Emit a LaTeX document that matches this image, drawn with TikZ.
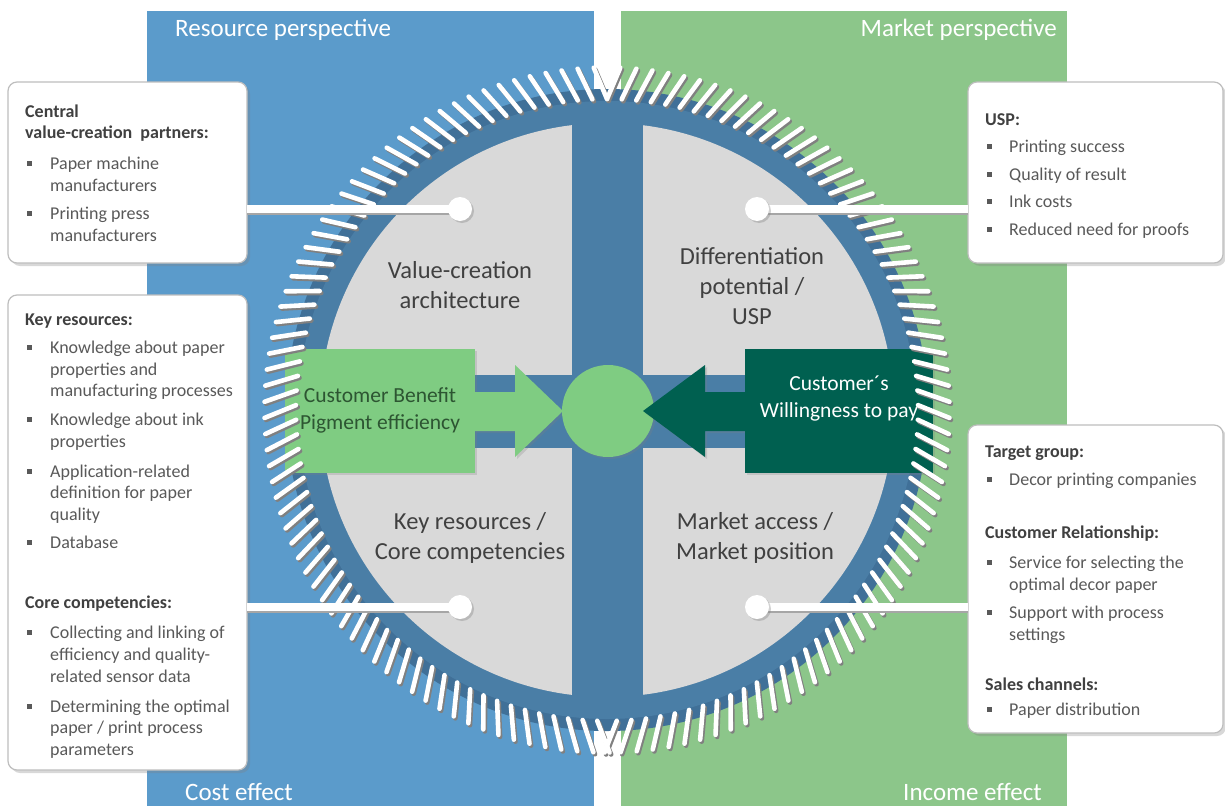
\documentclass[tikz,border=0pt]{standalone}
\usepackage{fontspec}
\setmainfont{Carlito}
\usetikzlibrary{shadows}
\definecolor{bgblue}{RGB}{91,155,203}
\definecolor{bggreen}{RGB}{140,198,138}
\definecolor{ringblue}{RGB}{74,126,166}
\definecolor{ringdark}{RGB}{64,112,152}
\definecolor{quadgray}{RGB}{217,217,217}
\definecolor{lgreen}{RGB}{127,204,130}
\definecolor{dgreen}{RGB}{0,96,80}
\definecolor{txtdark}{RGB}{64,64,64}
\definecolor{txtgray}{RGB}{89,89,89}
\definecolor{gtext}{RGB}{45,85,50}
\definecolor{boxborder}{RGB}{190,190,190}
\tikzset{
 ttl/.style={text=white, font=\fontsize{25}{30}\selectfont, inner sep=0},
 quad/.style={text=txtdark, align=center, font=\fontsize{24.5}{30}\selectfont, inner sep=0},
 infobox/.style={rectangle, rounded corners=9, draw=boxborder, line width=1.2, fill=white, outer sep=0,
   drop shadow={shadow xshift=3pt, shadow yshift=-3pt, opacity=0.3}},
 hd/.style={anchor=base west, inner sep=0, text=txtdark, font=\bfseries\fontsize{18}{22}\selectfont},
 it/.style={anchor=base west, inner sep=0, text=txtgray, font=\fontsize{18}{22}\selectfont},
 bul/.style={rectangle, fill=txtgray, minimum size=5, inner sep=0},
 ctext/.style={align=center, inner sep=0, font=\fontsize{21.5}{27}\selectfont},
 softsh/.style={drop shadow={shadow xshift=2pt, shadow yshift=-2pt, opacity=0.25}},
 tooth/.style={white, line width=4.6, line cap=round},
 toothsh/.style={black!50, line width=4.6, line cap=round},
 conn/.style={white, line width=8},
 connsh/.style={black!35, line width=8},
 endc/.style={circle, fill=white, minimum size=24, inner sep=0,
   drop shadow={shadow xshift=2pt, shadow yshift=-2pt, opacity=0.35}}
}
\begin{document}
\begin{tikzpicture}[x=1pt,y=-1pt]
\useasboundingbox (0,0) rectangle (1225,806);
\fill[white] (0,0) rectangle (1225,806);
% backgrounds
\fill[bgblue] (147,11) rectangle (594,806);
\fill[bggreen] (621,11) rectangle (1067,806);
\node[ttl, anchor=base west] (tres) at (175,36) {Resource perspective};
\node[ttl, anchor=base east] (tmar) at (1057,36) {Market perspective};
\node[ttl, anchor=base west] (tcost) at (185,800) {Cost effect};
\node[ttl, anchor=base west] (tinc) at (903,800) {Income effect};
% gear disk
\fill[ringdark] (607,410) circle (321);
\fill[ringblue] (607,410) circle (309);
\fill[quadgray] (607,410) circle (287);
\fill[ringblue] (572,110) rectangle (643,710);
\fill[ringblue] (300,375) rectangle (914,448);
% quadrant labels
\node[quad] (qva) at (460,285) {Value-creation\\architecture};
\node[quad] (qdp) at (752,286) {Differentiation\\potential /\\USP};
\node[quad] (qkr) at (470,538) {Key resources /\\Core competencies};
\node[quad] (qma) at (755,538) {Market access /\\Market position};
% center
\node[rectangle, fill=lgreen, minimum width=190, minimum height=124, inner sep=0, softsh] (cbox) at (380,411) {};
\node[ctext, text=gtext] (cbt) at (380,410) {Customer Benefit\\Pigment efficiency};
\fill[lgreen, softsh] (474,392) -- (515,392) -- (515,365) -- (563,411) -- (515,457) -- (515,431) -- (474,431) -- cycle;
\node[circle, fill=lgreen, minimum size=92, inner sep=0, softsh] (hub) at (608,411) {};
\fill[dgreen, softsh] (746,392) -- (705,392) -- (705,365) -- (643,411) -- (705,457) -- (705,431) -- (746,431) -- cycle;
\node[rectangle, fill=dgreen, minimum width=188, minimum height=124, inner sep=0, softsh] (wbox) at (839,411) {};
\node[ctext, text=white] (wbt) at (839,398) {Customer´s\\Willingness to pay};
% teeth
\begin{scope}[shift={(608.6,412)}]
\foreach \k in {0,...,66}{
  \pgfmathsetmacro\a{-(90+2.7*\k)}
  \pgfmathsetmacro\b{-90+2.7*\k}
  \draw[toothsh] (\a:311) -- ++(\a-23:34);
  \draw[toothsh] (\b:311) -- ++(\b+23:34);
}
\end{scope}
\begin{scope}[shift={(607,410)}]
\foreach \k in {0,...,66}{
  \pgfmathsetmacro\a{-(90+2.7*\k)}
  \pgfmathsetmacro\b{-90+2.7*\k}
  \draw[tooth] (\a:311) -- ++(\a-23:34);
  \draw[tooth] (\b:311) -- ++(\b+23:34);
}
\end{scope}
% info boxes
\node[infobox, minimum width=239, minimum height=181] (box1) at (127.5,172.5) {};
\node[infobox, minimum width=239, minimum height=475] (box2) at (127.5,532.5) {};
\node[infobox, minimum width=255, minimum height=181] (box3) at (1095.5,172.5) {};
\node[infobox, minimum width=255, minimum height=308] (box4) at (1095.5,579) {};
% box1
\node[hd] (h1a) at (25,117) {Central};
\node[hd] (h1b) at (25,138) {value-creation~ partners:};
\node[bul] (b11) at (29,163) {};
\node[it] (t11a) at (50,169) {Paper machine};
\node[it] (t11b) at (50,191) {manufacturers};
\node[bul] (b12) at (29,213) {};
\node[it] (t12a) at (50,219) {Printing press};
\node[it] (t12b) at (50,241) {manufacturers};
% box2
\node[hd] (h2a) at (25,325) {Key resources:};
\node[bul] (b21) at (29,347) {};
\node[it] (t21a) at (50,353) {Knowledge about paper};
\node[it] (t21b) at (50,375) {properties and};
\node[it] (t21c) at (50,396) {manufacturing processes};
\node[bul] (b22) at (29,419) {};
\node[it] (t22a) at (50,425) {Knowledge about ink};
\node[it] (t22b) at (50,447) {properties};
\node[bul] (b23) at (29,471) {};
\node[it] (t23a) at (50,477) {Application-related};
\node[it] (t23b) at (50,498) {definition for paper};
\node[it] (t23c) at (50,520) {quality};
\node[bul] (b24) at (29,542) {};
\node[it] (t24a) at (50,548) {Database};
\node[hd] (h2b) at (25,608) {Core competencies:};
\node[bul] (b25) at (29,632) {};
\node[it] (t25a) at (50,638) {Collecting and linking of};
\node[it] (t25b) at (50,660) {efficiency and quality-};
\node[it] (t25c) at (50,682) {related sensor data};
\node[bul] (b26) at (29,706) {};
\node[it] (t26a) at (50,712) {Determining the optimal};
\node[it] (t26b) at (50,733) {paper / print process};
\node[it] (t26c) at (50,755) {parameters};
% box3
\node[hd] (h3a) at (985,125) {USP:};
\node[bul] (b31) at (989,146) {};
\node[it] (t31) at (1009,152) {Printing success};
\node[bul] (b32) at (989,174) {};
\node[it] (t32) at (1009,180) {Quality of result};
\node[bul] (b33) at (989,201) {};
\node[it] (t33) at (1009,207) {Ink costs};
\node[bul] (b34) at (989,229) {};
\node[it] (t34) at (1009,235) {Reduced need for proofs};
% box4
\node[hd] (h4a) at (985,457) {Target group:};
\node[bul] (b41) at (989,479) {};
\node[it] (t41) at (1009,485) {Decor printing companies};
\node[hd] (h4b) at (985,538) {Customer Relationship:};
\node[bul] (b42) at (989,562) {};
\node[it] (t42a) at (1009,568) {Service for selecting the};
\node[it] (t42b) at (1009,590) {optimal decor paper};
\node[bul] (b43) at (989,612) {};
\node[it] (t43a) at (1009,618) {Support with process};
\node[it] (t43b) at (1009,640) {settings};
\node[hd] (h4c) at (985,690) {Sales channels:};
\node[bul] (b44) at (989,709) {};
\node[it] (t44) at (1009,715) {Paper distribution};
% connectors
\coordinate (c1p) at (460,209);
\coordinate (c2p) at (757,209);
\coordinate (c3p) at (460,607);
\coordinate (c4p) at (757,607);
\draw[connsh] ([yshift=-2pt]box1.east |- c1p) -- ([yshift=-2pt]c1p);
\draw[connsh] ([yshift=-2pt]box3.west |- c2p) -- ([yshift=-2pt]c2p);
\draw[connsh] ([yshift=-2pt]box2.east |- c3p) -- ([yshift=-2pt]c3p);
\draw[connsh] ([yshift=-2pt]box4.west |- c4p) -- ([yshift=-2pt]c4p);
\draw[conn] (box1.east |- c1p) -- (c1p);
\draw[conn] (box3.west |- c2p) -- (c2p);
\draw[conn] (box2.east |- c3p) -- (c3p);
\draw[conn] (box4.west |- c4p) -- (c4p);
\node[endc] (c1) at (c1p) {};
\node[endc] (c2) at (c2p) {};
\node[endc] (c3) at (c3p) {};
\node[endc] (c4) at (c4p) {};
\end{tikzpicture}
\end{document}
